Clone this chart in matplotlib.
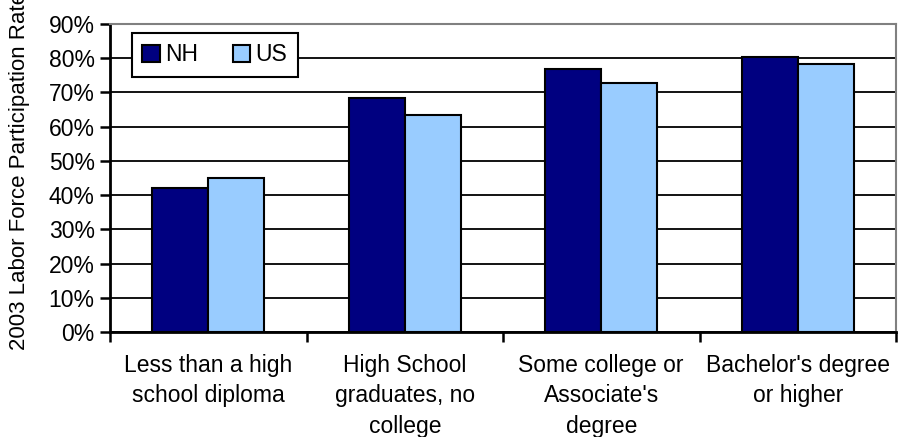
import numpy as np
import matplotlib.pyplot as plt
from matplotlib.ticker import FixedLocator, PercentFormatter

plt.rcParams['font.family'] = ['Liberation Sans', 'DejaVu Sans']

categories = ['Less than a high\nschool diploma', 'High School\ngraduates, no\ncollege',
              'Some college or\nAssociate\'s\ndegree', 'Bachelor\'s degree\nor higher']
nh = [42.2, 68.4, 76.9, 80.5]
us = [45.1, 63.5, 72.8, 78.2]

fig = plt.figure(figsize=(8.98, 4.37), dpi=100)
ax = fig.add_axes([110 / 898, 105 / 437, 786 / 898, 308 / 437])

x = np.arange(len(categories))
w = 0.285
ax.bar(x - w / 2, nh, w, color='#000080', edgecolor='black', linewidth=1.5, label='NH', zorder=3)
ax.bar(x + w / 2, us, w, color='#99CCFF', edgecolor='black', linewidth=1.5, label='US', zorder=3)

ax.set_xlim(-0.5, len(categories) - 0.5)
ax.set_ylim(0, 90)
ax.set_yticks(np.arange(0, 91, 10))
ax.yaxis.set_major_formatter(PercentFormatter(decimals=0))
ax.grid(axis='y', color='black', linewidth=1.3, zorder=0)

ax.set_xticks(x)
ax.set_xticklabels(categories, fontsize=16.5, linespacing=1.4)
ax.xaxis.set_minor_locator(FixedLocator(np.arange(-0.5, len(categories), 1.0)))
ax.tick_params(axis='x', which='major', length=0, pad=16)
ax.tick_params(axis='x', which='minor', length=7, width=1.8, direction='out')
ax.tick_params(axis='y', length=7, width=1.8, direction='out', labelsize=16.5, pad=4)

for side in ('left', 'bottom'):
    ax.spines[side].set_linewidth(2)
    ax.spines[side].set_color('black')
for side in ('top', 'right'):
    ax.spines[side].set_linewidth(1.5)
    ax.spines[side].set_color('#808080')

leg = ax.legend(loc='upper left', bbox_to_anchor=(0.028, 0.971), ncol=2, fontsize=16.5,
                frameon=True, fancybox=False, edgecolor='black', framealpha=1,
                handlelength=0.75, handleheight=0.75, handletextpad=0.25, columnspacing=1.5,
                borderpad=0.45, borderaxespad=0)
leg.get_frame().set_linewidth(1.5)

fig.text(20 / 898, 87 / 437, '2003 Labor Force Participation Rate', rotation=90,
         ha='center', va='bottom', fontsize=16)

fig.savefig('out.png', dpi=100)
